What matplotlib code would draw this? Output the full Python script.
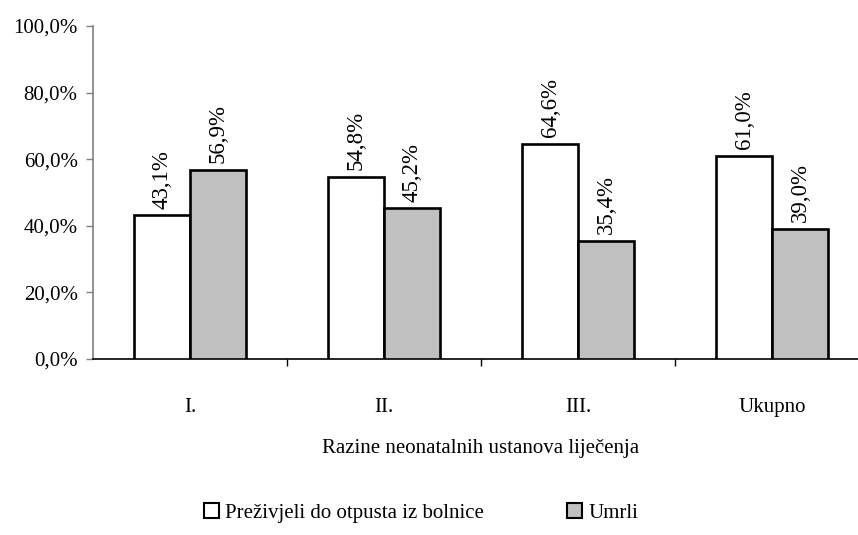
import matplotlib.pyplot as plt
from matplotlib.patches import Patch
from matplotlib.ticker import FixedLocator

categories = ["I.", "II.", "III.", "Ukupno"]
survived = [43.1, 54.8, 64.6, 61.0]
died = [56.9, 45.2, 35.4, 39.0]
series_names = ["Preživjeli do otpusta iz bolnice", "Umrli"]
y_ticks = [0, 20, 40, 60, 80, 100]

plt.rcParams["font.family"] = ["Liberation Serif", "DejaVu Serif"]
plt.rcParams["font.size"] = 15

fig = plt.figure(figsize=(8.58, 5.35), dpi=100)
ax = fig.add_axes([93 / 858, 1 - 359 / 535, 776 / 858, 333 / 535])

w = 0.288
x = list(range(len(categories)))
for vals, col, off in [(survived, "white", -w / 2), (died, "#c0c0c0", w / 2)]:
    pos = [i + off for i in x]
    ax.bar(pos, vals, width=w, color=col, edgecolor="black", linewidth=1.9, zorder=3)
    for p, v in zip(pos, vals):
        ax.text(p, v + 2.0, f"{v:.1f}%".replace(".", ","), rotation=90,
                ha="center", va="bottom", fontsize=16.5)

ax.set_xlim(-0.5, len(categories) - 0.5)
ax.set_ylim(0, 100)
ax.set_yticks(y_ticks)
ax.yaxis.set_major_formatter(lambda v, _: f"{v:.1f}%".replace(".", ","))

ax.set_xticks(x)
ax.set_xticklabels(categories)
ax.xaxis.set_minor_locator(FixedLocator([i + 0.5 for i in x]))
ax.tick_params(axis="x", which="major", length=0, pad=28)
ax.tick_params(axis="x", which="minor", length=5, width=1, color="black")
ax.tick_params(axis="y", length=5, width=1, color="#808080", pad=6)

ax.spines["top"].set_visible(False)
ax.spines["right"].set_visible(False)
ax.spines["left"].set_color("#808080")
ax.spines["left"].set_linewidth(1.2)
ax.spines["bottom"].set_linewidth(1.2)

ax.set_xlabel("Razine neonatalnih ustanova liječenja", labelpad=16)

handles = [Patch(facecolor="white", edgecolor="black", linewidth=1.5),
           Patch(facecolor="#c0c0c0", edgecolor="black", linewidth=1.5)]
fig.legend(handles, series_names, loc="center", bbox_to_anchor=(0.491, 0.041),
           ncol=2, frameon=False, handlelength=0.7, handleheight=0.7,
           handletextpad=0.3, columnspacing=4.0)

fig.savefig("out.png", dpi=100)
